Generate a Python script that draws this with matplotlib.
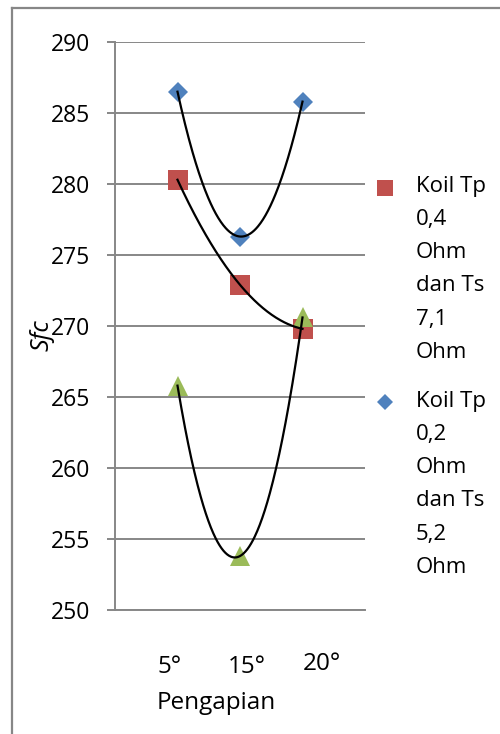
import numpy as np
import matplotlib.pyplot as plt
from matplotlib.lines import Line2D

plt.rcParams['font.family'] = ['Open Sans', 'DejaVu Sans']

# Data
categories = ['5°', '15°', '20°']
x_pos = [1, 2, 3]
koil_04 = [280.3, 272.9, 269.8]   # Koil Tp 0,4 Ohm dan Ts 7,1 Ohm
koil_02 = [286.5, 276.3, 285.8]   # Koil Tp 0,2 Ohm dan Ts 5,2 Ohm
koil_std = [265.8, 253.8, 270.6]  # third coil series
y_ticks = list(range(250, 291, 5))

RED = '#C0504D'
BLUE = '#4F81BD'
GREEN = '#9BBB59'
GREY = '#878787'

W, H = 500, 734


def fx(px):
    return px / W


def fy(py):
    return 1 - py / H


fig = plt.figure(figsize=(W / 100, H / 100), dpi=100)

# outer chart frame
fig.add_artist(Line2D([fx(12), 1.0], [fy(8), fy(8)], color=GREY, lw=1.6,
                      transform=fig.transFigure))
fig.add_artist(Line2D([fx(12), fx(12)], [fy(8), 0.0], color=GREY, lw=1.6,
                      transform=fig.transFigure))

ax = fig.add_axes([fx(115), fy(610), fx(365) - fx(115), fy(42) - fy(610)])
ax.set_xlim(0, 4)
ax.set_ylim(250, 290)
ax.set_yticks(y_ticks)
ax.set_xticks([])
ax.grid(axis='y', color=GREY, lw=1.4, zorder=0)
ax.set_axisbelow(True)
for s in ('top', 'right'):
    ax.spines[s].set_visible(False)
for s in ('left', 'bottom'):
    ax.spines[s].set_color(GREY)
    ax.spines[s].set_linewidth(1.4)
ax.tick_params(axis='y', length=5.8, width=1.4, color=GREY, pad=12,
               labelsize=16.5)

# series markers
ax.plot(x_pos, koil_04, 's', color=RED, ms=14.4, mew=0, zorder=3)
ax.plot(x_pos, koil_02, 'D', color=BLUE, ms=9.7, mew=0, zorder=3)
ax.plot(x_pos, koil_std, '^', color=GREEN, ms=14.4, mew=0, zorder=3)

# second-order polynomial trendlines
xs = np.linspace(x_pos[0], x_pos[-1], 200)
for vals in (koil_04, koil_02, koil_std):
    coeffs = np.polyfit(x_pos, vals, 2)
    ax.plot(xs, np.polyval(coeffs, xs), color='black', lw=1.6, zorder=4)

# category labels
label_px = [(170, 667), (247, 667), (322, 664)]
for lab, (px, py) in zip(categories, label_px):
    fig.text(fx(px), fy(py), lab, ha='center', va='center', fontsize=17.5)
fig.text(fx(216), fy(703), 'Pengapian', ha='center', va='center',
         fontsize=17.5)

# axis title
fig.text(fx(42), fy(335), 'Sfc', rotation=90, style='italic',
         ha='center', va='center', fontsize=18)

# legend
fig.add_artist(Line2D([fx(385)], [fy(188)], marker='s', ms=12, color=RED,
                      mew=0, transform=fig.transFigure))
fig.add_artist(Line2D([fx(385)], [fy(402)], marker='D', ms=8.4, color=BLUE,
                      mew=0, transform=fig.transFigure))
fig.text(fx(416), fy(176), 'Koil Tp\n0,4\nOhm\ndan Ts\n7,1\nOhm',
         ha='left', va='top', fontsize=16, linespacing=1.76)
fig.text(fx(416), fy(391), 'Koil Tp\n0,2\nOhm\ndan Ts\n5,2\nOhm',
         ha='left', va='top', fontsize=16, linespacing=1.76)

fig.savefig('out.png', dpi=100)
